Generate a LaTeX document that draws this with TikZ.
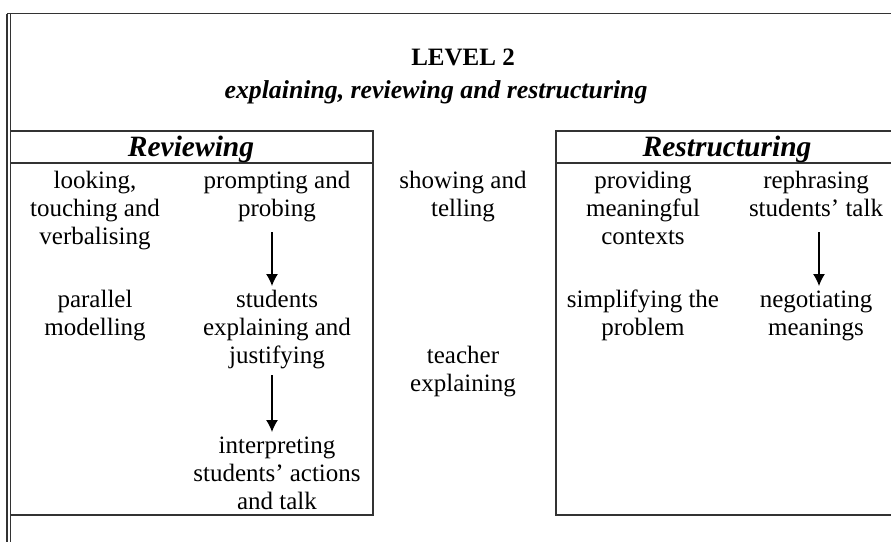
\documentclass[tikz,border=0pt]{standalone}
\usepackage{fontspec}
\setmainfont{Liberation Serif}
\usetikzlibrary{arrows.meta,positioning}
\tikzstyle{line} = [draw, -{Latex[length=12pt,width=12pt]}, line width=1.2pt]
\tikzstyle{frame} = [draw=black!80, line width=1.3pt]
\tikzstyle{item} = [align=center, inner sep=0pt, anchor=base, font=\fontsize{25}{28}\selectfont]
\tikzstyle{head} = [inner sep=0pt, anchor=base, font=\fontsize{29.5}{32}\selectfont\bfseries\itshape]

\begin{document}
\begin{tikzpicture}[x=1pt, y=-1pt]
\useasboundingbox (0,0) rectangle (891,541);
\clip (0,0) rectangle (891,541);

% outer frame
\draw [frame, line width=1.8pt] (7,13.5) -- (900,13.5);
\draw [frame] (7,13.5) -- (7,560);
\draw [frame] (10.5,13.5) -- (10.5,560);

\node [inner sep=0pt, anchor=base, font=\fontsize{25}{30}\selectfont\bfseries] (level) at (463,65) {LEVEL 2};
\node [inner sep=0pt, anchor=base, font=\fontsize{25.8}{30}\selectfont\bfseries\itshape] (sub) at (436,98) {explaining, reviewing and restructuring};

% two boxes
\draw [frame] (10.5,131) rectangle (373,515);
\draw [frame] (10.5,163) -- (373,163);
\draw [frame] (900,131) -- (556,131) -- (556,515) -- (900,515);
\draw [frame] (556,163) -- (900,163);

\node [head] (rev) at (191,156) {Reviewing};
\node [head] (res) at (727,156) {Restructuring};

% reviewing (base = last line)
\node [item] (look) at (95,244) {looking,\\touching and\\verbalising};
\node [item] (prompt) at (277,216) {prompting and\\probing};
\node [item] (par) at (95,335) {parallel\\modelling};
\node [item] (expl) at (277,363) {students\\explaining and\\justifying};
\node [item] (interp) at (277,509) {interpreting\\students' actions\\and talk};

% middle
\node [item] (show) at (463,216) {showing and\\telling};
\node [item] (teach) at (463,391) {teacher\\explaining};

% restructuring
\node [item] (prov) at (643,244) {providing\\meaningful\\contexts};
\node [item] (reph) at (816,216) {rephrasing\\students' talk};
\node [item] (simp) at (643,335) {simplifying the\\problem};
\node [item] (neg) at (816,335) {negotiating\\meanings};

\coordinate (a1) at (272,232);
\coordinate (b1) at (272,286);
\coordinate (a2) at (272,375);
\coordinate (b2) at (272,432);
\coordinate (a3) at (819,232);
\coordinate (b3) at (819,286);
\path [line] (a1) -- (b1);
\path [line] (a2) -- (b2);
\path [line] (a3) -- (b3);

\end{tikzpicture}
\end{document}
